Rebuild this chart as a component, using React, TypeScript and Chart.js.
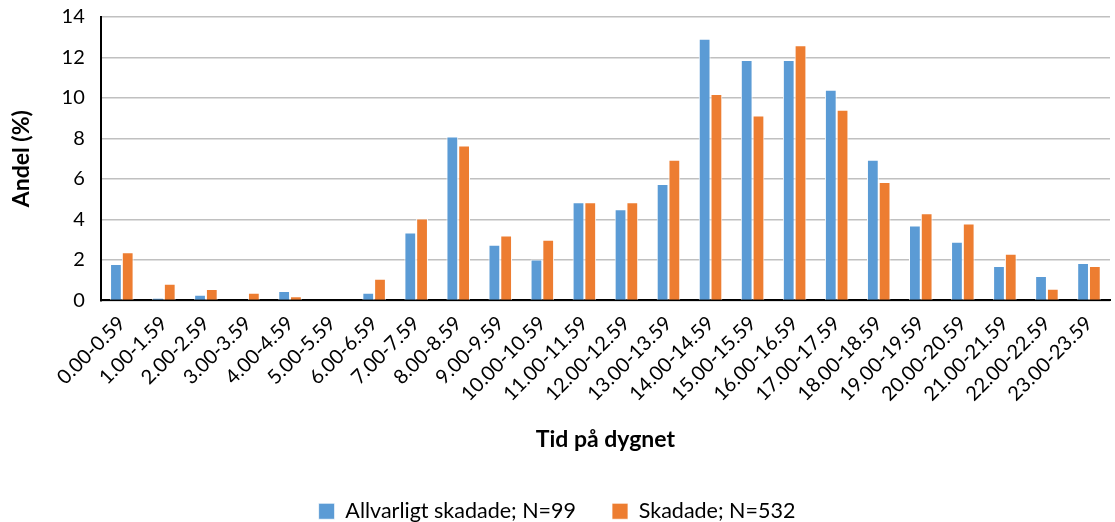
import React, { useEffect, useRef } from "react";
import { Chart, registerables } from "chart.js";

Chart.register(...registerables);

const categories = [
  "0.00-0.59", "1.00-1.59", "2.00-2.59", "3.00-3.59", "4.00-4.59", "5.00-5.59",
  "6.00-6.59", "7.00-7.59", "8.00-8.59", "9.00-9.59", "10.00-10.59", "11.00-11.59",
  "12.00-12.59", "13.00-13.59", "14.00-14.59", "15.00-15.59", "16.00-16.59", "17.00-17.59",
  "18.00-18.59", "19.00-19.59", "20.00-20.59", "21.00-21.59", "22.00-22.59", "23.00-23.59",
];

const allvarligt = [
  1.8, 0.12, 0.28, 0, 0.46, 0, 0.38, 3.35, 8.1, 2.75, 2.02, 4.85,
  4.5, 5.75, 12.93, 11.88, 11.88, 10.4, 6.95, 3.7, 2.9, 1.7, 1.2, 1.85,
];

const skadade = [
  2.38, 0.82, 0.56, 0.38, 0.2, 0, 1.07, 4.05, 7.65, 3.2, 3.0, 4.85,
  4.85, 6.95, 10.2, 9.13, 12.6, 9.42, 5.85, 4.3, 3.8, 2.3, 0.57, 1.7,
];

const seriesLabels = ["Allvarligt skadade; N=99", "Skadade; N=532"];
const yTicks = [0, 2, 4, 6, 8, 10, 12, 14];

const FONT = "Lato, 'Open Sans', sans-serif";
const SHIFT = 11;

export default function App() {
  const ref = useRef<HTMLCanvasElement | null>(null);
  useEffect(() => {
    if (!ref.current) return;
    const chart = new Chart(ref.current, {
      type: "bar",
      data: {
        labels: categories,
        datasets: [
          {
            label: seriesLabels[0],
            data: allvarligt,
            backgroundColor: "#5b9bd5",
            borderColor: "#ffffff",
            borderWidth: { left: 1, right: 1, top: 1, bottom: 0 } as any,
            categoryPercentage: 0.56,
            barPercentage: 1,
          },
          {
            label: seriesLabels[1],
            data: skadade,
            backgroundColor: "#ed7d31",
            borderColor: "#ffffff",
            borderWidth: { left: 1, right: 1, top: 1, bottom: 0 } as any,
            categoryPercentage: 0.56,
            barPercentage: 1,
          },
        ],
      },
      options: {
        animation: false,
        responsive: false,
        maintainAspectRatio: false,
        layout: { padding: { left: 4, right: 5, top: 0, bottom: -10 } },
        plugins: {
          legend: {
            position: "bottom",
            labels: {
              boxWidth: 16,
              boxHeight: 16,
              padding: 36,
              color: "#000",
              font: { family: FONT, size: 21.5 },
            },
          },
          tooltip: { enabled: false },
        },
        scales: {
          x: {
            grid: { display: false, drawTicks: true },
            border: { color: "#000", width: 2 },
            ticks: {
              color: "#000",
              font: { family: FONT, size: 20 },
              minRotation: 45,
              maxRotation: 45,
              autoSkip: false,
            },
            title: {
              display: true,
              text: "Tid på dygnet",
              color: "#000",
              font: { family: FONT, size: 23, weight: "bold" },
              padding: { top: 17, bottom: 11 },
            },
          },
          y: {
            min: 0,
            max: 14,
            afterBuildTicks: (axis: any) => {
              axis.ticks = yTicks.map((v) => ({ value: v }));
            },
            grid: { color: "#c0c0c0", lineWidth: 1.5, drawTicks: false },
            border: { color: "#000", width: 2 },
            ticks: {
              color: "#000",
              padding: 16,
              font: { family: FONT, size: 20 },
            },
            title: {
              display: true,
              text: "Andel (%)",
              color: "#000",
              font: { family: FONT, size: 23, weight: "bold" },
              padding: { bottom: 10 },
            },
          },
        },
      },
    });
    return () => chart.destroy();
  }, []);
  return (
    <div style={{ position: "absolute", left: 0, top: 0, width: 1115, height: 522, overflow: "hidden", background: "#fff" }}>
      <canvas
        ref={ref}
        width={1115}
        height={522 + SHIFT}
        style={{ position: "absolute", left: 0, top: -SHIFT }}
      />
    </div>
  );
}
